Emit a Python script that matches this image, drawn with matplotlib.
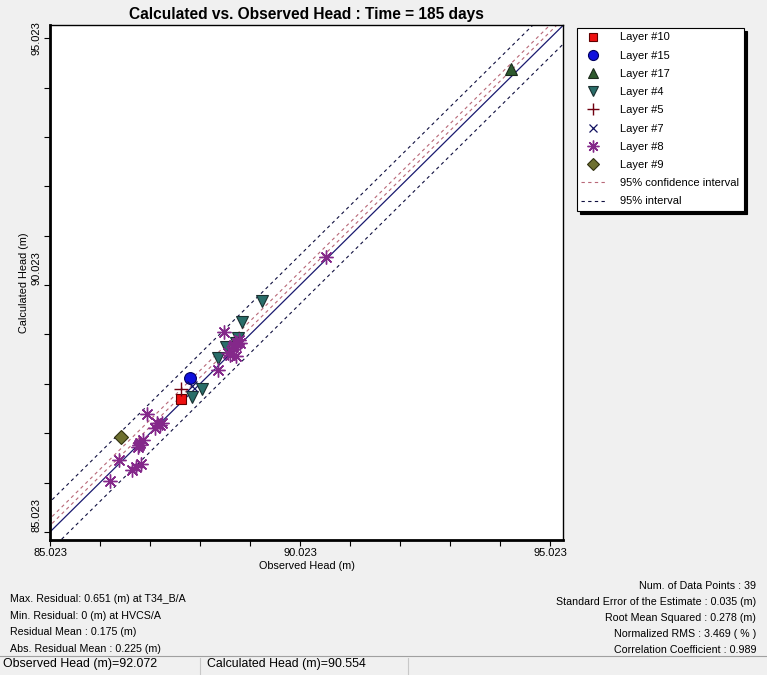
import matplotlib
import matplotlib.pyplot as plt
import numpy as np

matplotlib.use("Agg")

plt.rcParams["font.family"] = ["Liberation Sans", "DejaVu Sans"]

# observed / calculated heads per layer (m)
layer10_obs = [87.64]
layer10_calc = [87.72]
layer15_obs = [87.82]
layer15_calc = [88.14]
layer17_obs = [94.24]
layer17_calc = [94.40]
layer4_obs = [89.26, 88.86, 88.78, 88.74, 88.54, 88.38, 88.06, 87.86]
layer4_calc = [89.70, 89.27, 88.95, 88.85, 88.77, 88.55, 87.92, 87.76]
layer5_obs = [87.64]
layer5_calc = [87.92]
layer7_obs = [87.86]
layer7_calc = [87.98]
layer8_obs = [90.54, 88.50, 88.80, 88.76, 88.82, 88.68, 88.62, 88.74, 88.38, 86.96,
              87.16, 87.26, 87.12, 86.82, 86.78, 86.88, 86.40, 86.84, 86.74, 86.66,
              86.22, 88.70, 88.58, 87.22, 86.80]
layer8_calc = [90.59, 89.07, 88.91, 88.85, 88.85, 88.77, 88.61, 88.59, 88.30, 87.41,
               87.23, 87.23, 87.13, 86.83, 86.74, 86.89, 86.48, 86.40, 86.34, 86.28,
               86.06, 88.80, 88.65, 87.18, 86.79]
layer9_obs = [86.44]
layer9_calc = [86.95]

# offsets of the interval lines from the 1:1 line (m)
conf_offsets = [0.13, 0.27]
pred_offsets = [-0.38, 0.61]

major_ticks = [85.023, 90.023, 95.023]
minor_ticks = [85.023 + i for i in range(11)]

left_stats = [
    "Max. Residual: 0.651 (m) at T34_B/A",
    "Min. Residual: 0 (m) at HVCS/A",
    "Residual Mean : 0.175 (m)",
    "Abs. Residual Mean : 0.225 (m)",
]
right_stats = [
    "Num. of Data Points : 39",
    "Standard Error of the Estimate : 0.035 (m)",
    "Root Mean Squared : 0.278 (m)",
    "Normalized RMS : 3.469 ( % )",
    "Correlation Coefficient : 0.989",
]
status_obs = "Observed Head (m)=92.072"
status_calc = "Calculated Head (m)=90.554"

W, H = 767, 675
fig = plt.figure(figsize=(W / 100, H / 100), dpi=100, facecolor="#f0f0f0")
ax = fig.add_axes([50 / W, 1 - 540 / H, 513 / W, 515 / H])

xlim = (85.023, 95.28)
ylim = (84.86, 95.29)
xs = np.array([xlim[0] - 1, xlim[1] + 1])

ax.plot(xs, xs, "-", color="#1a1a70", lw=0.9, zorder=2)
for i, off in enumerate(conf_offsets):
    ax.plot(xs, xs + off, color="#b86878", lw=0.8, dashes=(3, 3), zorder=2,
            label="95% confidence interval" if i == 0 else None)
for i, off in enumerate(pred_offsets):
    ax.plot(xs, xs + off, color="#101040", lw=0.8, dashes=(3, 3), zorder=2,
            label="95% interval" if i == 0 else None)

mk = dict(linestyle="none", zorder=3)
ax.plot(layer10_obs, layer10_calc, marker="s", ms=7.5, mfc="#ee1111", mec="#600000", mew=0.8, label="Layer #10", **mk)
ax.plot(layer15_obs, layer15_calc, marker="o", ms=8.5, mfc="#1010dd", mec="#000060", mew=0.8, label="Layer #15", **mk)
ax.plot(layer17_obs, layer17_calc, marker="^", ms=9, mfc="#2e5a2e", mec="#1a2a1a", mew=0.8, label="Layer #17", **mk)
ax.plot(layer4_obs, layer4_calc, marker="v", ms=9, mfc="#2a6e6a", mec="#1a3030", mew=0.8, label="Layer #4", **mk)
ax.plot(layer5_obs, layer5_calc, marker="+", ms=10, mec="#700010", mew=1.0, label="Layer #5", **mk)
ax.plot(layer7_obs, layer7_calc, marker="x", ms=7, mec="#101060", mew=0.9, label="Layer #7", **mk)
ax.plot(layer8_obs, layer8_calc, marker=(8, 2, 0), ms=10, mec="#84288a", mew=1.0, label="Layer #8", **mk)
ax.plot(layer9_obs, layer9_calc, marker="D", ms=7, mfc="#6e7030", mec="#303010", mew=0.8, label="Layer #9", **mk)

ax.set_xlim(xlim)
ax.set_ylim(ylim)
ax.set_xticks(major_ticks)
ax.set_yticks(major_ticks)
ax.set_xticks(minor_ticks, minor=True)
ax.set_yticks(minor_ticks, minor=True)
ax.set_xticklabels([f"{t:.3f}" for t in major_ticks], fontsize=8)
ax.set_yticklabels([f"{t:.3f}" for t in major_ticks], fontsize=8, rotation=90)
# lower y labels sit just above their tick, the top one is centred
for lab, va in zip(ax.get_yticklabels(), ["bottom", "bottom", "center"]):
    lab.set_va(va)
ax.tick_params(which="both", direction="out", length=4, width=0.8, pad=2)
for side in ["left", "bottom"]:
    ax.spines[side].set_linewidth(2)
for side in ["top", "right"]:
    ax.spines[side].set_linewidth(1)

ax.set_xlabel("Observed Head (m)", fontsize=7.8, labelpad=2)
ax.set_ylabel("Calculated Head (m)", fontsize=7.8, labelpad=2)
ax.set_title("Calculated vs. Observed Head : Time = 185 days", fontsize=11.2, fontweight="bold", pad=4)

# legend: markers first, then the two interval lines
handles, labels = ax.get_legend_handles_labels()
order = [labels.index(n) for n in ["Layer #10", "Layer #15", "Layer #17", "Layer #4", "Layer #5",
                                   "Layer #7", "Layer #8", "Layer #9",
                                   "95% confidence interval", "95% interval"]]
leg = fig.legend([handles[i] for i in order], [labels[i] for i in order],
                 loc="upper left", bbox_to_anchor=(577 / W, 1 - 28 / H), bbox_transform=fig.transFigure,
                 borderaxespad=0, fontsize=8, numpoints=1, markerscale=0.85, fancybox=False, framealpha=1,
                 edgecolor="black", handlelength=2.1, handletextpad=1.4, labelspacing=0.74,
                 borderpad=0.4, shadow={"color": "black", "alpha": 1})
leg.get_frame().set_linewidth(0.8)

for i, s in enumerate(left_stats):
    fig.text(10 / W, 1 - (599 + 16.7 * i) / H, s, fontsize=7.7, va="center", ha="left")
for i, s in enumerate(right_stats):
    fig.text(756 / W, 1 - (586 + 16 * i) / H, s, fontsize=7.7, va="center", ha="right")

# status bar
fig.add_artist(plt.Line2D([0, 1], [1 - 656 / H] * 2, transform=fig.transFigure, color="#a0a0a0", lw=0.8))
for xp in [200, 408]:
    fig.add_artist(plt.Line2D([xp / W] * 2, [0, 1 - 658 / H], transform=fig.transFigure, color="#c8c8c8", lw=0.8))
fig.text(3 / W, 1 - 664 / H, status_obs, fontsize=8.9, va="center", ha="left")
fig.text(207 / W, 1 - 664 / H, status_calc, fontsize=8.9, va="center", ha="left")

fig.savefig("out.png", dpi=100, facecolor=fig.get_facecolor())
plt.close(fig)
